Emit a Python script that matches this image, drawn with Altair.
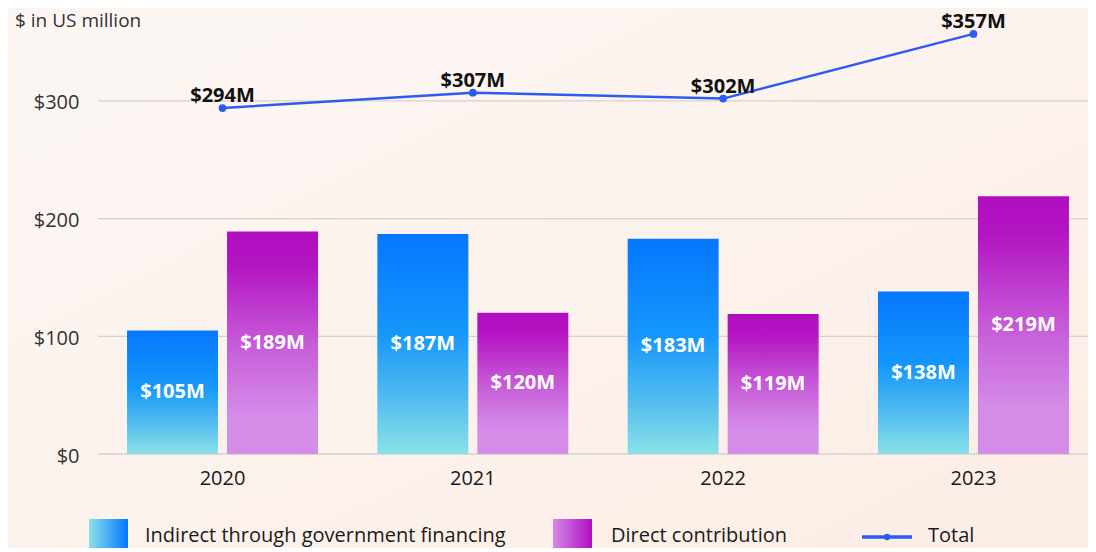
import altair as alt
import pandas as pd

years = ["2020", "2021", "2022", "2023"]
indirect = [105, 187, 183, 138]
direct = [189, 120, 119, 219]
total = [294, 307, 302, 357]
series_names = ["Indirect through government financing", "Direct contribution"]
y_ticks = [0, 100, 200, 300]

FONT = "Open Sans"
W, H = 990, 442

bars = pd.DataFrame({
    "year": years * 2,
    "series": [series_names[0]] * 4 + [series_names[1]] * 4,
    "value": indirect + direct,
})
bars["label"] = "$" + bars["value"].astype(str) + "M"
bars["mid"] = bars["value"] / 2
tot = pd.DataFrame({"year": years, "total": total})
tot["label"] = "$" + tot["total"].astype(str) + "M"
grid = pd.DataFrame({"tick": y_ticks})

blue_v = alt.LinearGradient(gradient="linear", x1=0, x2=0, y1=0, y2=1, stops=[
    alt.GradientStop(color="#0677FF", offset=0),
    alt.GradientStop(color="#1597FA", offset=0.45),
    alt.GradientStop(color="#4CB8F0", offset=0.72),
    alt.GradientStop(color="#8AE1E8", offset=1)])
purple_v = alt.LinearGradient(gradient="linear", x1=0, x2=0, y1=0, y2=1, stops=[
    alt.GradientStop(color="#B00EC0", offset=0),
    alt.GradientStop(color="#B315C2", offset=0.15),
    alt.GradientStop(color="#C65AD8", offset=0.5),
    alt.GradientStop(color="#D48CE8", offset=0.82),
    alt.GradientStop(color="#D48CE8", offset=1)])
blue_h = alt.LinearGradient(gradient="linear", x1=0, x2=1, y1=0, y2=0, stops=[
    alt.GradientStop(color="#8AE1E8", offset=0),
    alt.GradientStop(color="#0677FF", offset=1)])
purple_h = alt.LinearGradient(gradient="linear", x1=0, x2=1, y1=0, y2=0, stops=[
    alt.GradientStop(color="#D48CE8", offset=0),
    alt.GradientStop(color="#B00EC0", offset=1)])
bg_grad = alt.LinearGradient(gradient="linear", x1=0, x2=1, y1=0, y2=1, stops=[
    alt.GradientStop(color="#FCF7F4", offset=0),
    alt.GradientStop(color="#FCEDE5", offset=1)])

xscale = alt.Scale(domain=years, range=[0, 1000], paddingInner=0.237, paddingOuter=0.116)
yscale = alt.Scale(domain=[0, 375.6], nice=False)
off = alt.XOffset("series:N", scale=alt.Scale(domain=series_names, paddingInner=0.09))

x_axis = alt.Axis(labelAngle=0, domain=False, ticks=False, labelPadding=14, grid=False,
                  labelFontSize=20, labelColor="#1a1a1a", labelFont=FONT, zindex=1)
y_axis = alt.Axis(values=y_ticks, labelExpr="'$' + datum.value", domain=False,
                  ticks=False, tickSize=0, labelPadding=19, grid=False, labelFontSize=20,
                  labelColor="#333333", labelFont=FONT, zindex=1, labelOffset=2)


def X():
    return alt.X("year:N", scale=xscale, sort=years, title=None, axis=x_axis)


def Y(field):
    return alt.Y(field, scale=yscale, title=None, axis=y_axis)


one = pd.DataFrame({"a": [0]})

background = alt.Chart(one).mark_rect(color=bg_grad).encode(
    x=alt.value(-90), x2=alt.value(W), y=alt.value(-4), y2=alt.value(H + 94))

gridlines = alt.Chart(grid).mark_rule(color="#D9D0CC", strokeWidth=1.3).encode(
    y=Y("tick:Q"), x=alt.value(0), x2=alt.value(W))

base = alt.Chart(bars)
bar_blue = base.transform_filter(alt.datum.series == series_names[0]).mark_bar(color=blue_v).encode(
    x=X(), xOffset=off, y=Y("value:Q"))
bar_purple = base.transform_filter(alt.datum.series == series_names[1]).mark_bar(color=purple_v).encode(
    x=X(), xOffset=off, y=Y("value:Q"))
bar_text = base.mark_text(color="white", fontWeight="bold", fontSize=20, font=FONT,
                          baseline="middle").encode(
    x=X(), xOffset=off, y=Y("mid:Q"), text="label:N")

tbase = alt.Chart(tot)
line = tbase.mark_line(color="#2D5BF2", strokeWidth=2.5).encode(x=X(), y=Y("total:Q"))
pts = tbase.mark_circle(color="#2D5BF2", size=60, opacity=1).encode(x=X(), y=Y("total:Q"))
tlabels = tbase.mark_text(color="#111111", fontWeight="bold", fontSize=20, font=FONT,
                          dy=-12, baseline="middle").encode(
    x=X(), y=Y("total:Q"), text="label:N")

title = alt.Chart(one).mark_text(text="$ in US million", align="left", baseline="middle",
                                 fontSize=19, font=FONT, color="#333333").encode(
    x=alt.value(-83), y=alt.value(9))

LY = 524
leg_blue = alt.Chart(one).mark_rect(color=blue_h).encode(
    x=alt.value(-9), x2=alt.value(30), y=alt.value(507), y2=alt.value(550))
leg_blue_t = alt.Chart(one).mark_text(text=series_names[0], align="left", baseline="middle",
                                      fontSize=20, font=FONT, color="#1a1a1a").encode(
    x=alt.value(47), y=alt.value(LY))
leg_purple = alt.Chart(one).mark_rect(color=purple_h).encode(
    x=alt.value(455), x2=alt.value(494), y=alt.value(507), y2=alt.value(550))
leg_purple_t = alt.Chart(one).mark_text(text=series_names[1], align="left", baseline="middle",
                                        fontSize=20, font=FONT, color="#1a1a1a").encode(
    x=alt.value(513), y=alt.value(LY))
leg_line = alt.Chart(one).mark_rule(color="#2D5BF2", strokeWidth=3.5).encode(
    x=alt.value(764), x2=alt.value(814), y=alt.value(LY + 1))
leg_dot = alt.Chart(one).mark_circle(color="#2D5BF2", size=40, opacity=1).encode(
    x=alt.value(789), y=alt.value(LY + 1))
leg_total_t = alt.Chart(one).mark_text(text="Total", align="left", baseline="middle",
                                       fontSize=20, font=FONT, color="#1a1a1a").encode(
    x=alt.value(830), y=alt.value(LY))

chart = alt.layer(
    background, gridlines, bar_blue, bar_purple, bar_text, line, pts, tlabels, title,
    leg_blue, leg_blue_t, leg_purple, leg_purple_t, leg_line, leg_dot, leg_total_t
).properties(
    width=W, height=H,
    autosize=alt.AutoSizeParams(type="none"),
    padding={"left": 90, "top": 4, "right": 0, "bottom": 94},
    background="#FCF4EF",
).configure_view(stroke=None)

chart.save("out.html", embed_options={"renderer": "svg", "actions": False})
